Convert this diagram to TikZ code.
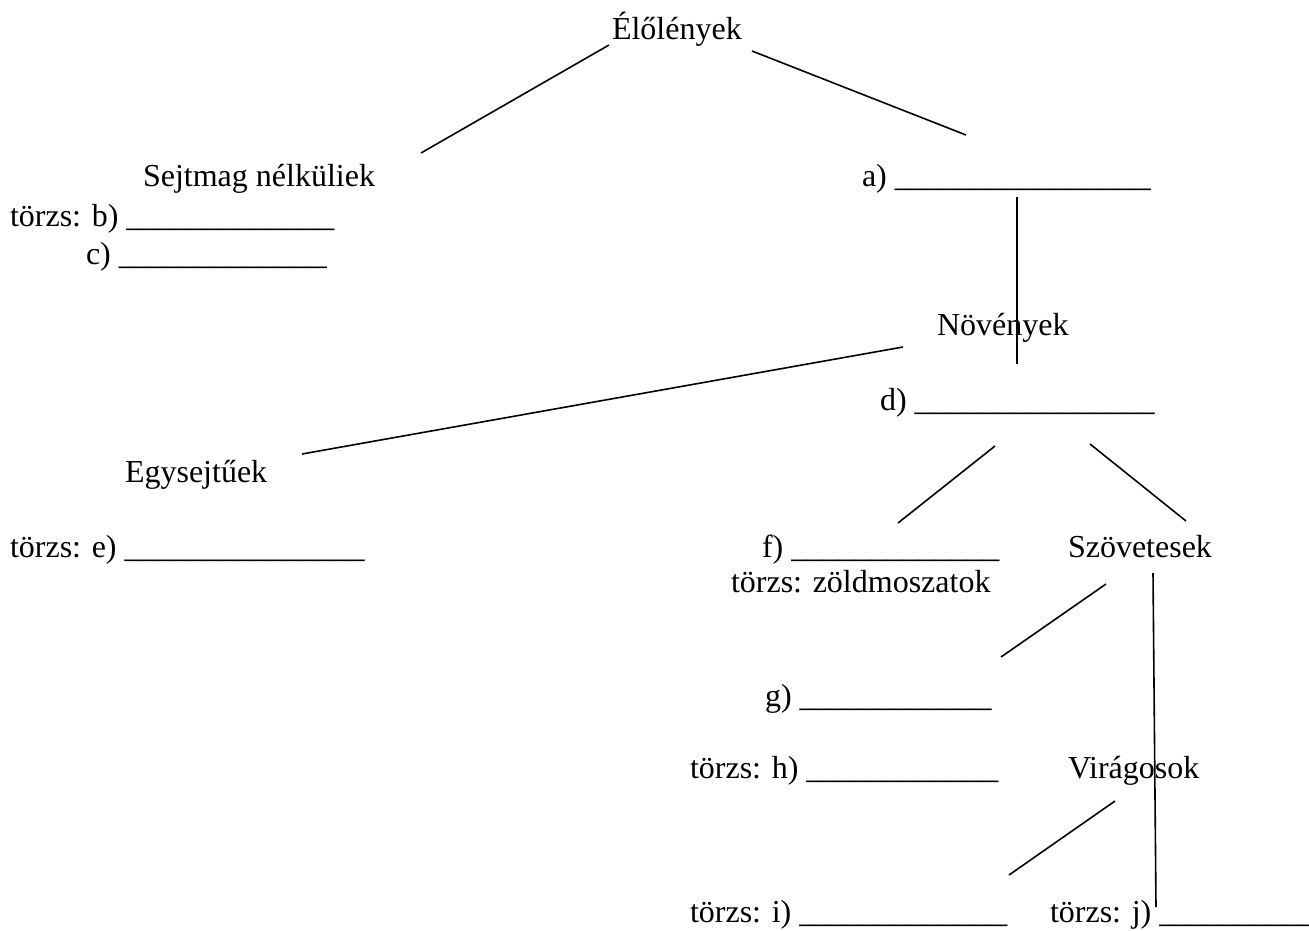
\documentclass[tikz,border=0pt]{standalone}
\usepackage{fontspec}
\setmainfont{Liberation Serif}
\newcommand{\blank}[1]{\foreach \k in {1,...,#1}{\_}}
\begin{document}
\begin{tikzpicture}[x=1pt,y=-1pt,
  lbl/.style={anchor=base west,inner sep=0pt,outer sep=0pt,font=\fontsize{32}{38}\selectfont},
  link/.style={line width=1.6pt,line cap=butt}]
\useasboundingbox (0,0) rectangle (1309,930);
% labels
\node[lbl] (elo) at (612,39) {Élőlények};
\node[lbl] (sejt) at (143,186) {Sejtmag nélküliek};
\node[lbl] (a) at (862,186) {a) \blank{16}};
\node[lbl] (b) at (10,226) {törzs: b) \blank{13}};
\node[lbl] (c) at (86,264) {c) \blank{13}};
\node[lbl] (nov) at (937,335) {Növények};
\node[lbl] (d) at (880,410) {d) \blank{15}};
\node[lbl] (egy) at (125,482) {Egysejtűek};
\node[lbl] (e) at (10,557) {törzs: e) \blank{15}};
\node[lbl] (f) at (762,557) {f) \blank{13}};
\node[lbl] (szov) at (1068,557) {Szövetesek};
\node[lbl] (zold) at (731,592) {törzs: zöldmoszatok};
\node[lbl] (g) at (765,706) {g) \blank{12}};
\node[lbl] (h) at (690,778) {törzs: h) \blank{12}};
\node[lbl] (vir) at (1068,778) {Virágosok};
\node[lbl] (i) at (690,922) {törzs: i) \blank{13}};
\node[lbl] (j) at (1050,922) {törzs: j) \blank{10}};
% connector end points
\coordinate (l1a) at (609,45);   \coordinate (l1b) at (421,153);
\coordinate (l2a) at (752,51);   \coordinate (l2b) at (966,135);
\coordinate (l3a) at (1017,197); \coordinate (l3b) at (1017,364);
\coordinate (l4a) at (903,347);  \coordinate (l4b) at (302,454);
\coordinate (l5a) at (995,446);  \coordinate (l5b) at (898,523);
\coordinate (l6a) at (1090,444); \coordinate (l6b) at (1186,521);
\coordinate (l7a) at (1106,584); \coordinate (l7b) at (1001,657);
\coordinate (l8a) at (1153,573); \coordinate (l8b) at (1156,907);
\coordinate (l9a) at (1115,801); \coordinate (l9b) at (1009,875);
\draw[link] (l1a) -- (l1b);
\draw[link] (l2a) -- (l2b);
\draw[link] (l3a) -- (l3b);
\draw[link] (l4a) -- (l4b);
\draw[link] (l5a) -- (l5b);
\draw[link] (l6a) -- (l6b);
\draw[link] (l7a) -- (l7b);
\draw[link] (l8a) -- (l8b);
\draw[link] (l9a) -- (l9b);
\end{tikzpicture}
\end{document}
